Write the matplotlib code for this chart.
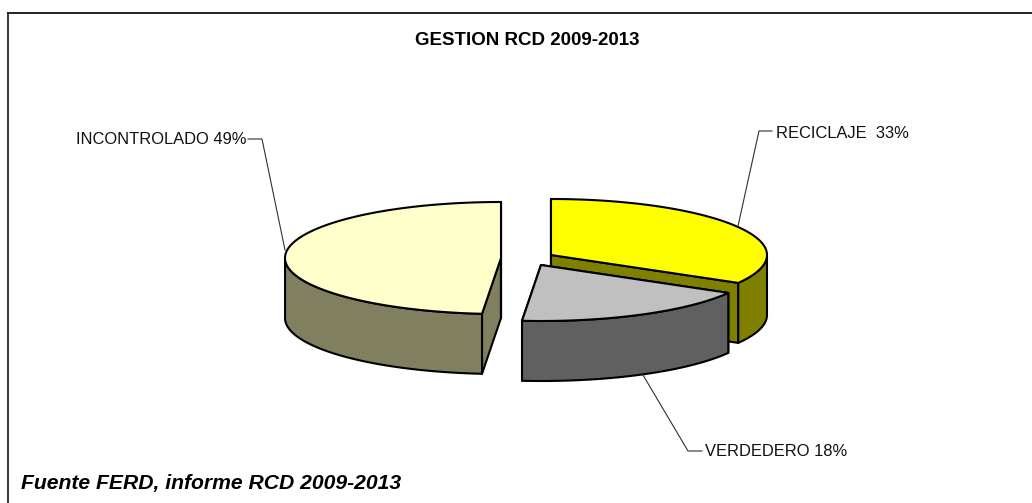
import numpy as np
import matplotlib
matplotlib.use("Agg")
import matplotlib.pyplot as plt
from matplotlib.patches import Polygon

plt.rcParams["font.family"] = ["Liberation Sans", "DejaVu Sans"]

# slices in clockwise order starting at 12 o'clock
categories = ["RECICLAJE", "VERDEDERO", "INCONTROLADO"]
shares = [33.3, 18.1, 48.6]

top_colors = ["#FFFF00", "#C0C0C0", "#FFFFCC"]
side_colors = ["#808000", "#606060", "#808060"]
apex = [(551, 255), (541, 265), (501, 258)]  # exploded slice centres, in pixels

RX = 216
RY = 56
DEPTH = 60
LW = 1.5

fig = plt.figure(figsize=(10.32, 5.03), dpi=100)
ax = fig.add_axes([0, 0, 1, 1])
ax.set_xlim(0, 1032)
ax.set_ylim(503, 0)
ax.axis("off")

# the frame is cut off by the picture on the right and at the bottom
ax.plot([7.5, 7.5], [13, 503], color="#404040", lw=1.5, solid_capstyle="butt")
ax.plot([7, 1032], [13, 13], color="#111111", lw=1.3, solid_capstyle="butt")


def rim(cx, cy, t):
    # t is clockwise from 12 o'clock, in degrees
    r = np.radians(t)
    return cx + RX * np.sin(r), cy - RY * np.cos(r)


def draw_slice(i, t0, t1):
    cx, cy = apex[i]
    ts = np.linspace(t0, t1, 120)
    xs, ys = rim(cx, cy, ts)

    # cut faces first, the top and rim wall cover whatever is hidden
    for t in (t0, t1):
        x, y = rim(cx, cy, t)
        face = [(cx, cy), (x, y), (x, y + DEPTH), (cx, cy + DEPTH)]
        ax.add_patch(Polygon(face, fc=side_colors[i], ec="black", lw=LW, joinstyle="round"))

    # outer wall, only the part that faces the viewer
    front = ts[(ts >= 90) & (ts <= 270)]
    if len(front):
        fx, fy = rim(cx, cy, front)
        wall = np.r_[np.c_[fx, fy], np.c_[fx, fy + DEPTH][::-1]]
        ax.add_patch(Polygon(wall, fc=side_colors[i], ec="black", lw=LW, joinstyle="round"))

    top = np.r_[[[cx, cy]], np.c_[xs, ys]]
    ax.add_patch(Polygon(top, fc=top_colors[i], ec="black", lw=LW, joinstyle="round"))


bounds = np.r_[0, np.cumsum(shares)] * 3.6
for i in [2, 0, 1]:
    draw_slice(i, bounds[i], bounds[i + 1])

# leader lines
ax.plot([248, 262, 285], [139, 139, 250], color="#303030", lw=0.8)
ax.plot([772, 759, 738], [131, 131, 226], color="#303030", lw=0.8)
ax.plot([643, 688, 702], [375, 451, 451], color="#303030", lw=0.8)

ax.text(246, 139, f"{categories[2]} {shares[2]:.0f}%", ha="right", va="center", fontsize=11.9, color="#111111")
ax.text(776, 134, f"{categories[0]}  {shares[0]:.0f}%", ha="left", va="center", fontsize=11.9, color="#111111")
ax.text(705, 452, f"{categories[1]} {shares[1]:.0f}%", ha="left", va="center", fontsize=11.9, color="#111111")

ax.text(527.5, 40, "GESTION RCD 2009-2013", ha="center", va="center", fontsize=13.5, fontweight="bold")
ax.text(21, 483, "Fuente FERD, informe RCD 2009-2013", ha="left", va="center", fontsize=15.2,
        fontweight="bold", fontstyle="italic")

fig.savefig("out.png", dpi=100)
